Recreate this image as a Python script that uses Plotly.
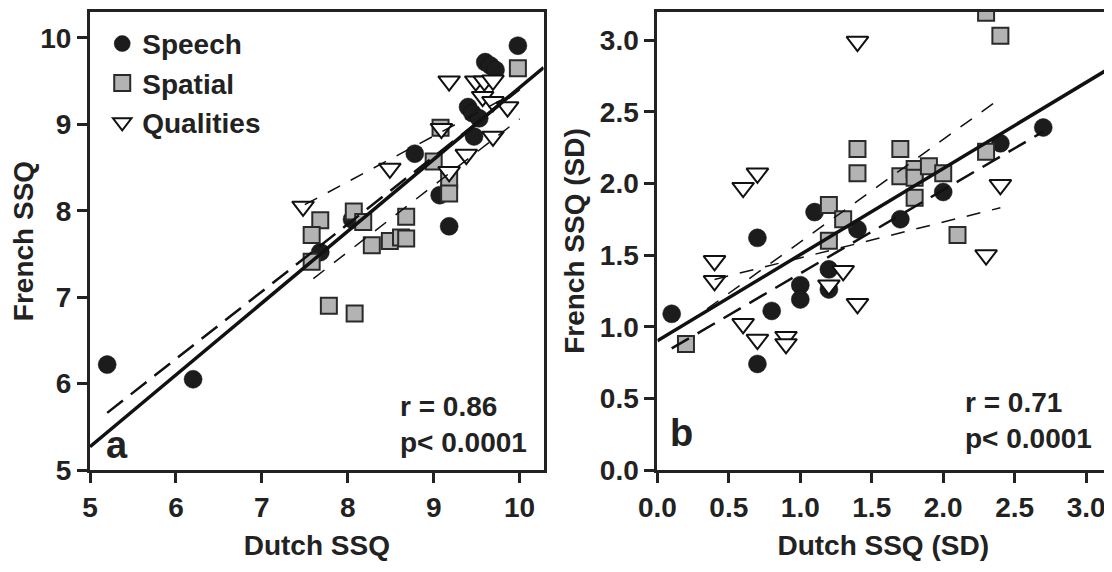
import plotly.graph_objects as go

# ---------------- Panel a data ----------------
speech_a_x = [5.2, 6.2, 7.68, 8.05, 8.78, 9.07, 9.18, 9.4, 9.45, 9.53, 9.47, 9.6, 9.66, 9.72, 9.98]
speech_a_y = [6.22, 6.05, 7.52, 7.9, 8.66, 8.18, 7.82, 9.2, 9.13, 9.07, 8.86, 9.72, 9.68, 9.63, 9.91]

spatial_a_x = [9.98, 9.08, 9.0, 9.18, 9.18, 8.07, 8.18, 7.68, 7.58, 7.58, 8.68, 8.28, 8.49, 8.62, 8.68, 7.78, 8.08]
spatial_a_y = [9.65, 8.96, 8.57, 8.36, 8.2, 7.99, 7.87, 7.89, 7.72, 7.41, 7.93, 7.6, 7.65, 7.69, 7.68, 6.9, 6.81]

qual_a_x = [7.48, 8.49, 9.09, 9.18, 9.38, 9.69, 9.18, 9.49, 9.59, 9.69, 9.57, 9.69, 9.86]
qual_a_y = [8.05, 8.49, 8.95, 8.45, 8.65, 8.86, 9.5, 9.5, 9.5, 9.51, 9.32, 9.26, 9.2]

# regression lines: all, speech, spatial, qualities
line_a_slope = [0.831, 0.78, 0.77, 0.53]
line_a_icpt = [1.115, 1.605, 1.363, 4.095]
line_a_xmin = [5.0, 5.2, 7.6, 7.5]
line_a_xmax = [10.28, 10.0, 10.0, 9.9]

# ---------------- Panel b data ----------------
speech_b_x = [0.1, 0.7, 0.7, 0.8, 1.0, 1.0, 1.1, 1.2, 1.2, 1.4, 1.7, 2.0, 2.4, 2.7]
speech_b_y = [1.09, 1.62, 0.74, 1.11, 1.29, 1.19, 1.8, 1.4, 1.26, 1.68, 1.75, 1.94, 2.28, 2.39]

spatial_b_x = [0.2, 1.2, 1.3, 1.2, 1.4, 1.4, 1.7, 1.7, 1.8, 1.8, 1.8, 1.9, 2.0, 2.1, 2.3, 2.3, 2.4]
spatial_b_y = [0.88, 1.85, 1.75, 1.6, 2.24, 2.07, 2.24, 2.05, 2.1, 2.04, 1.9, 2.12, 2.07, 1.64, 2.22, 3.19, 3.03]

qual_b_x = [1.4, 0.7, 0.6, 0.4, 0.4, 0.6, 0.7, 0.9, 0.9, 1.2, 1.3, 1.4, 2.3, 2.4]
qual_b_y = [2.99, 2.07, 1.97, 1.46, 1.32, 1.02, 0.91, 0.93, 0.88, 1.29, 1.39, 1.16, 1.5, 1.99]

line_b_slope = [0.601, 0.582, 0.716, 0.25]
line_b_icpt = [0.902, 0.79, 0.875, 1.23]
line_b_xmin = [0.0, 0.1, 0.2, 0.4]
line_b_xmax = [3.16, 2.7, 2.4, 2.4]

ticks_a = [5, 6, 7, 8, 9, 10]
ticks_b = [0.0, 0.5, 1.0, 1.5, 2.0, 2.5, 3.0]

FONT = "Liberation Sans, Arial, sans-serif"
line_styles = [
    dict(color="#111111", width=3.5, dash="solid"),
    dict(color="#111111", width=2.5, dash="20px,10px"),
    dict(color="#111111", width=1.5, dash="14px,12px"),
    dict(color="#111111", width=1.5, dash="14px,12px"),
]

circle_m = dict(symbol="circle", size=18, color="#1c1c1c", line=dict(color="#111111", width=0.5))
square_m = dict(symbol="square", size=16, color="#b3b3b3", line=dict(color="#2a2a2a", width=2))
tri_m = dict(symbol="triangle-down", size=19, color="white", line=dict(color="#111111", width=2))

fig = go.Figure()

panels = [
    ("x", "y", speech_a_x, speech_a_y, spatial_a_x, spatial_a_y, qual_a_x, qual_a_y,
     line_a_slope, line_a_icpt, line_a_xmin, line_a_xmax, True),
    ("x2", "y2", speech_b_x, speech_b_y, spatial_b_x, spatial_b_y, qual_b_x, qual_b_y,
     line_b_slope, line_b_icpt, line_b_xmin, line_b_xmax, False),
]

for (xa, ya, sx, sy, px, py, qx, qy, sl, ic, x0, x1, leg) in panels:
    fig.add_trace(go.Scatter(x=sx, y=sy, mode="markers", marker=circle_m, name="Speech",
                             showlegend=leg, xaxis=xa, yaxis=ya))
    fig.add_trace(go.Scatter(x=px, y=py, mode="markers", marker=square_m, name="Spatial",
                             showlegend=leg, xaxis=xa, yaxis=ya))
    fig.add_trace(go.Scatter(x=qx, y=qy, mode="markers", marker=tri_m, name="Qualities",
                             showlegend=leg, xaxis=xa, yaxis=ya))
    for i in range(len(sl)):
        xs = [x0[i], x1[i]]
        ys = [ic[i] + sl[i] * v for v in xs]
        fig.add_trace(go.Scatter(x=xs, y=ys, mode="lines", line=line_styles[i],
                                 showlegend=False, hoverinfo="skip", xaxis=xa, yaxis=ya))

axis_common = dict(
    showline=True, mirror=True, linecolor="#222222", linewidth=3,
    ticks="outside", ticklen=10, tickwidth=3, tickcolor="#222222",
    showgrid=False, zeroline=False,
    tickfont=dict(family=FONT, size=28, color="#222222", weight="bold"),
)
title_font = dict(family=FONT, size=28, color="#222222", weight="bold")

# page body adds an 8px margin, so the figure is 8px smaller on each axis
fig.update_layout(
    width=1104, height=564,
    margin=dict(l=82, r=0, t=4, b=102),
    paper_bgcolor="white", plot_bgcolor="white",
    font=dict(family=FONT, color="#222222"),
    xaxis=dict(domain=[0, 0.4452], range=[5, 10.28], tickvals=ticks_a,
               ticktext=[str(t) for t in ticks_a],
               title=dict(text="Dutch SSQ", font=title_font, standoff=14), **axis_common),
    yaxis=dict(domain=[0, 1], range=[5, 10.3], tickvals=ticks_a,
               ticktext=[str(t) for t in ticks_a],
               title=dict(text="French SSQ", font=title_font, standoff=10), **axis_common),
    xaxis2=dict(domain=[0.5568, 1.0], range=[0, 3.16], tickvals=ticks_b,
                ticktext=[f"{t:.1f}" for t in ticks_b], anchor="y2",
                title=dict(text="Dutch SSQ (SD)", font=title_font, standoff=14), **axis_common),
    yaxis2=dict(domain=[0, 1], range=[0, 3.196], tickvals=ticks_b,
                ticktext=[f"{t:.1f}" for t in ticks_b], anchor="x2",
                title=dict(text="French SSQ (SD)", font=title_font, standoff=8), **axis_common),
    legend=dict(x=0.012, y=0.985, xanchor="left", yanchor="top",
                bgcolor="rgba(0,0,0,0)", borderwidth=0,
                font=dict(family=FONT, size=28, color="#222222", weight="bold"),
                tracegroupgap=0, itemsizing="trace"),
)

ann_font = dict(family=FONT, size=28, color="#222222", weight="bold")
fig.add_annotation(text="r = 0.86<br>p< 0.0001", xref="x domain", yref="y domain",
                   x=0.68, y=0.1, xanchor="left", yanchor="middle", align="left",
                   showarrow=False, font=ann_font)
fig.add_annotation(text="r = 0.71<br>p< 0.0001", xref="x2 domain", yref="y2 domain",
                   x=0.676, y=0.107, xanchor="left", yanchor="middle", align="left",
                   showarrow=False, font=ann_font)
panel_font = dict(family=FONT, size=38, color="#222222", weight="bold")
fig.add_annotation(text="a", xref="x domain", yref="y domain", x=0.03, y=0.055,
                   xanchor="left", yanchor="middle", showarrow=False, font=panel_font)
fig.add_annotation(text="b", xref="x2 domain", yref="y2 domain", x=0.024, y=0.08,
                   xanchor="left", yanchor="middle", showarrow=False, font=panel_font)

fig.write_html("out.html")
